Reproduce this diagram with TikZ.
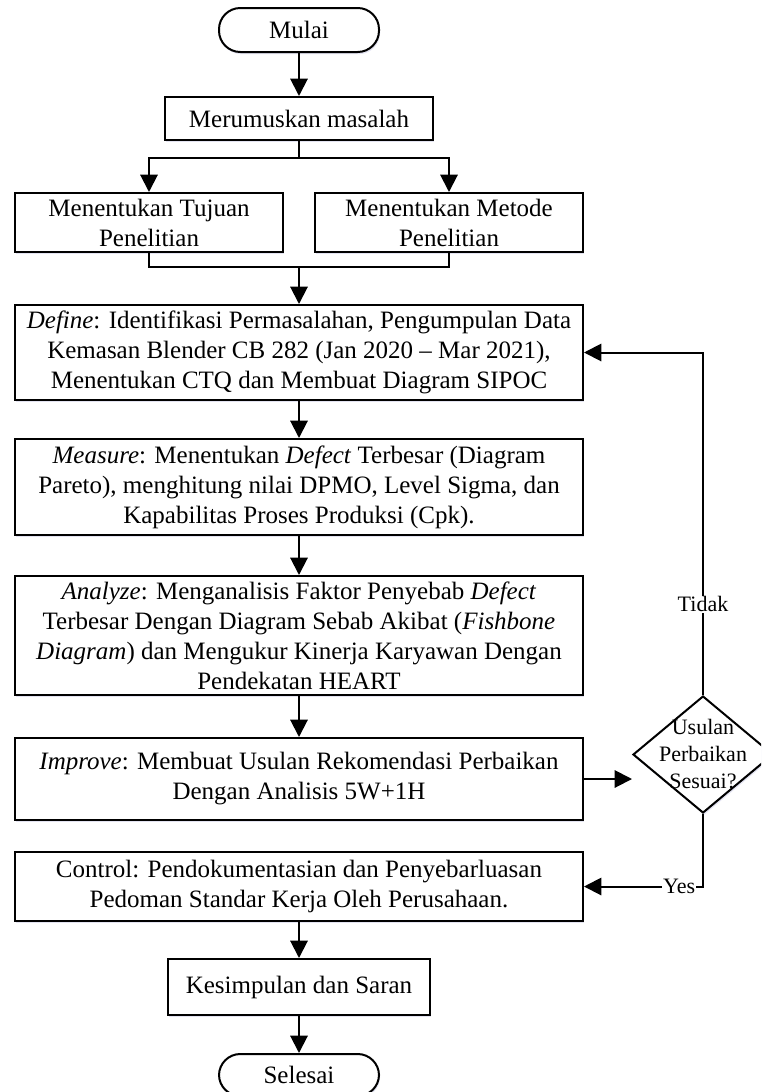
\documentclass[tikz,border=0pt]{standalone}
\usepackage{fontspec}
\setmainfont{Liberation Serif}
\usetikzlibrary{arrows.meta,shapes.geometric,shadows}

\begin{document}
\begin{tikzpicture}[x=0.75pt,y=-0.75pt,
  shade/.style={drop shadow={shadow xshift=0.8pt, shadow yshift=-1.6pt, fill=blue!35!gray, opacity=0.16}},
  box/.style={draw=black, line width=1.5pt, fill=white, inner sep=0pt, align=center,
    font=\fontsize{18.75}{22.5}\selectfont, shade},
  term/.style={box, rounded corners=16pt},
  decision/.style={diamond, draw=black, line width=1.5pt, fill=white, inner sep=0pt, shade},
  dectxt/.style={align=center, inner sep=0pt, font=\fontsize{16.5}{20.25}\selectfont},
  lbl/.style={fill=white, inner sep=0.6pt, font=\fontsize{16.5}{20}\selectfont},
  arr/.style={line width=1.5pt, -{Triangle[length=13pt,width=13pt]}},
  ln/.style={line width=1.5pt}]

\path[use as bounding box, clip] (0,0) rectangle (761,1092);
\fill[white] (0,0) rectangle (761,1092);

% nodes
\node[term, minimum width=120pt, minimum height=33pt] (mulai) at (299,30) {Mulai};
\node[box, minimum width=201pt, minimum height=32.25pt] (merum) at (299,118.5) {Merumuskan masalah};
\node[box, minimum width=201pt, minimum height=44.25pt] (tujuan) at (149,222.5) {Menentukan Tujuan\\Penelitian};
\node[box, minimum width=201pt, minimum height=44.25pt] (metode) at (449,222.5) {Menentukan Metode\\Penelitian};
\node[box, minimum width=426pt, minimum height=71.25pt] (define) at (299,352.5)
  {\textit{Define}: Identifikasi Permasalahan, Pengumpulan Data\\
   Kemasan Blender CB 282 (Jan 2020 – Mar 2021),\\
   Menentukan CTQ dan Membuat Diagram SIPOC};
\node[box, minimum width=426pt, minimum height=72pt] (measure) at (299,487)
  {\textit{Measure}: Menentukan \textit{Defect} Terbesar (Diagram\\
   Pareto), menghitung nilai DPMO, Level Sigma, dan\\
   Kapabilitas Proses Produksi (Cpk).};
\node[box, minimum width=426pt, minimum height=89.25pt] (analyze) at (299,635.5)
  {\textit{Analyze}: Menganalisis Faktor Penyebab \textit{Defect}\\
   Terbesar Dengan Diagram Sebab Akibat (\textit{Fishbone}\\
   \textit{Diagram}) dan Mengukur Kinerja Karyawan Dengan\\
   Pendekatan HEART};
\node[box, minimum width=426pt, minimum height=61.5pt] (improve) at (299,779)
  {\textit{Improve}: Membuat Usulan Rekomendasi Perbaikan\\
   Dengan Analisis 5W+1H};
\node[box, minimum width=426pt, minimum height=51.75pt] (control) at (299,886.5)
  {Control: Pendokumentasian dan Penyebarluasan\\
   Pedoman Standar Kerja Oleh Perusahaan.};
\node[box, minimum width=196.5pt, minimum height=42pt] (kesimpulan) at (299,987) {Kesimpulan dan Saran};
\node[term, minimum width=120pt, minimum height=31.5pt] (selesai) at (299,1075) {Selesai};

\node[decision, minimum width=105pt, minimum height=87.75pt] (dec) at (703,754.5) {};
\node[dectxt] (dectext) at (dec.center) {Usulan\\Perbaikan\\Sesuai?};

\coordinate (split) at (299,158);
\coordinate (join) at (299,267);

% connectors
\draw[arr] (mulai) -- (merum);
\draw[ln] (merum.south) -- (split);
\draw[arr] (split) -| (tujuan.north);
\draw[arr] (split) -| (metode.north);
\draw[ln] (tujuan.south) |- (join);
\draw[ln] (metode.south) |- (join);
\draw[arr] (join) -- (define.north);
\draw[arr] (define) -- (measure);
\draw[arr] (measure) -- (analyze);
\draw[arr] (analyze) -- (improve);
\draw[arr] (control) -- (kesimpulan);
\draw[arr] (kesimpulan) -- (selesai);
\draw[arr] (improve.east) -- (improve.east -| dec.west);
\draw[arr] (dec.north) -- node[lbl, pos=0.265] (tidak) {Tidak} (dec.north |- define.east) -- (define.east);
\draw[arr] (dec.south) |- node[lbl, pos=0.6] (yes) {Yes} (control.east);

\end{tikzpicture}
\end{document}
